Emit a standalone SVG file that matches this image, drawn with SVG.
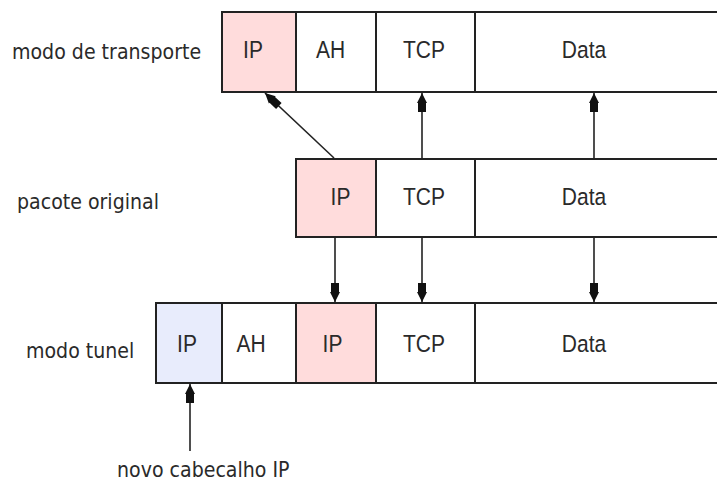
<svg xmlns="http://www.w3.org/2000/svg" width="717" height="481" viewBox="0 0 717 481">
  <style>
    .cell { fill: #ffffff; stroke: #222222; stroke-width: 2; }
    .ip { fill: #ffdcdc; }
    .newip { fill: #e8ecfc; }
    .lbl { font-family: "Liberation Sans", Arial, sans-serif; font-size: 21px; fill: #2a2a2a; text-anchor: middle; }
    .side { font-family: "DejaVu Sans", Verdana, sans-serif; font-size: 19px; fill: #2a2a2a; }
    .conn { stroke: #222222; stroke-width: 1.6; fill: none; marker-end: url(#head); }
  </style>
  <defs>
    <marker id="head" markerUnits="userSpaceOnUse" markerWidth="22" markerHeight="12" viewBox="-20 -6 21 12" refX="0" refY="0" orient="auto">
      <path d="M0,0 L-10,-5 L-10,-4 L-19,-4 L-19,4 L-10,4 L-10,5 Z" fill="#111111"/>
    </marker>
  </defs>
  <rect width="717" height="481" fill="#ffffff"/>

  <!-- row labels -->
  <text class="side" transform="translate(12,58.5) scale(1,1.15)">modo de transporte</text>
  <text class="side" transform="translate(17,208.5) scale(1,1.15)">pacote original</text>
  <text class="side" transform="translate(26,357.5) scale(1,1.15)">modo tunel</text>
  <text class="side" transform="translate(117,477) scale(1,1.15)">novo cabecalho IP</text>

  <!-- transport mode packet -->
  <g id="transport">
    <rect class="cell ip" x="222" y="12" width="74" height="80"/>
    <rect class="cell" x="296" y="12" width="80" height="80"/>
    <rect class="cell" x="376" y="12" width="99" height="80"/>
    <rect class="cell" x="475" y="12" width="260" height="80"/>
    <text class="lbl" transform="translate(253,58.3) scale(1,1.17)">IP</text>
    <text class="lbl" transform="translate(330.5,58.3) scale(1,1.17)">AH</text>
    <text class="lbl" transform="translate(424,58.3) scale(1,1.17)">TCP</text>
    <text class="lbl" transform="translate(584,58.3) scale(1,1.17)">Data</text>
  </g>

  <!-- original packet -->
  <g id="original">
    <rect class="cell ip" x="296" y="159" width="80" height="78"/>
    <rect class="cell" x="376" y="159" width="99" height="78"/>
    <rect class="cell" x="475" y="159" width="260" height="78"/>
    <text class="lbl" transform="translate(340.5,205) scale(1,1.17)">IP</text>
    <text class="lbl" transform="translate(424,205) scale(1,1.17)">TCP</text>
    <text class="lbl" transform="translate(584,205) scale(1,1.17)">Data</text>
  </g>

  <!-- tunnel mode packet -->
  <g id="tunnel">
    <rect class="cell newip" x="156" y="303" width="66" height="80"/>
    <rect class="cell" x="222" y="303" width="74" height="80"/>
    <rect class="cell ip" x="296" y="303" width="80" height="80"/>
    <rect class="cell" x="376" y="303" width="99" height="80"/>
    <rect class="cell" x="475" y="303" width="260" height="80"/>
    <text class="lbl" transform="translate(187,351.7) scale(1,1.17)">IP</text>
    <text class="lbl" transform="translate(251,351.7) scale(1,1.17)">AH</text>
    <text class="lbl" transform="translate(332.5,351.7) scale(1,1.17)">IP</text>
    <text class="lbl" transform="translate(424,351.7) scale(1,1.17)">TCP</text>
    <text class="lbl" transform="translate(584,351.7) scale(1,1.17)">Data</text>
  </g>

  <!-- connectors -->
  <g id="connectors">
    <line class="conn" x1="334" y1="158" x2="265" y2="93"/>
    <line class="conn" x1="422" y1="158" x2="422" y2="93"/>
    <line class="conn" x1="594" y1="158" x2="594" y2="93"/>
    <line class="conn" x1="335" y1="238" x2="335" y2="302"/>
    <line class="conn" x1="422" y1="238" x2="422" y2="302"/>
    <line class="conn" x1="594" y1="238" x2="594" y2="302"/>
    <line class="conn" x1="190" y1="451" x2="190" y2="384"/>
  </g>
</svg>
